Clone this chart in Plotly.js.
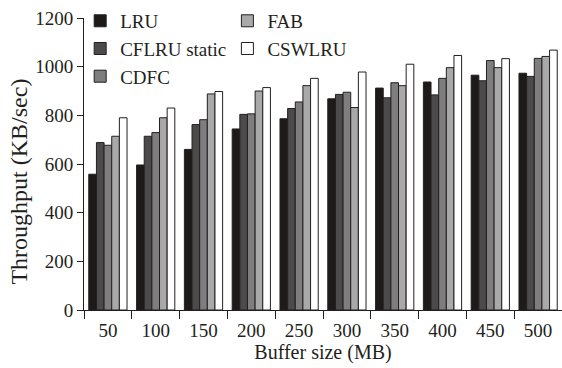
<!DOCTYPE html>
<html>
<head>
<meta charset="utf-8">
<script src="https://cdn.plot.ly/plotly-3.0.1.min.js"></script>
<style>html,body{margin:0;padding:0;background:#fff;}#chart{width:562px;height:368px;}</style>
</head>
<body>
<div id="chart"></div>
<script>
const categories = ["50","100","150","200","250","300","350","400","450","500"];
const seriesNames = ["LRU","CFLRU static","CDFC","FAB","CSWLRU"];
const lru    = [558, 596, 660, 744, 786, 868, 912, 937, 965, 973];
const cflru  = [688, 714, 762, 804, 828, 886, 872, 884, 942, 960];
const cdfc   = [677, 729, 782, 806, 855, 895, 934, 952, 1025, 1034];
const fab    = [714, 790, 888, 900, 922, 832, 922, 996, 996, 1042];
const cswlru = [790, 830, 898, 914, 952, 978, 1010, 1046, 1033, 1068];
const yTicks = [0, 200, 400, 600, 800, 1000, 1200];

const values = [lru, cflru, cdfc, fab, cswlru];
const colors = ["#1e1a18", "#4c4a4a", "#7e7e7e", "#a9a9a9", "#ffffff"];
const legendIds = ["legend", "legend", "legend", "legend2", "legend2"];

const traces = seriesNames.map((name, i) => ({
  type: "bar",
  name: name,
  x: categories,
  y: values[i],
  legend: legendIds[i],
  marker: {color: colors[i], line: {color: "#231f20", width: 1}}
}));

const font = {family: "Liberation Serif, Times New Roman, serif", color: "#231f20"};
const layout = {
  width: 562, height: 368,
  margin: {l: 84, r: 0, t: 18, b: 58},
  paper_bgcolor: "#fff", plot_bgcolor: "#fff",
  font: Object.assign({size: 19}, font),
  barmode: "group", bargap: 0.2, bargroupgap: 0,
  showlegend: true,
  legend: {x: -0.008, y: 1.055, xanchor: "left", yanchor: "top", bgcolor: "rgba(0,0,0,0)",
           font: Object.assign({size: 19}, font), tracegroupgap: 0, traceorder: "normal"},
  legend2: {x: 0.30, y: 1.055, xanchor: "left", yanchor: "top", bgcolor: "rgba(0,0,0,0)",
           font: Object.assign({size: 19}, font), tracegroupgap: 0, traceorder: "normal"},
  xaxis: {
    type: "category",
    showline: true, linecolor: "#231f20", linewidth: 1,
    ticks: "outside", tickson: "boundaries", ticklen: 8, tickcolor: "#231f20",
    ticklabelstandoff: 3,
    showgrid: false, zeroline: false,
    tickfont: Object.assign({size: 19}, font),
    title: {text: "Buffer size (MB)", font: Object.assign({size: 20}, font), standoff: 2}
  },
  yaxis: {
    range: [0, 1200], tickvals: yTicks, ticktext: yTicks.map(String),
    showline: true, linecolor: "#231f20", linewidth: 1,
    ticks: "outside", ticklen: 6, tickcolor: "#231f20",
    showgrid: false, zeroline: false,
    tickfont: Object.assign({size: 19}, font)
  },
  annotations: [{
    text: "Throughput (KB/sec)", textangle: -90, showarrow: false,
    xref: "paper", yref: "paper", x: -0.138, y: 0.44, xanchor: "center", yanchor: "middle",
    font: Object.assign({size: 24}, font)
  }]
};

Plotly.newPlot("chart", traces, layout, {displayModeBar: false, staticPlot: true});
</script>
</body>
</html>
